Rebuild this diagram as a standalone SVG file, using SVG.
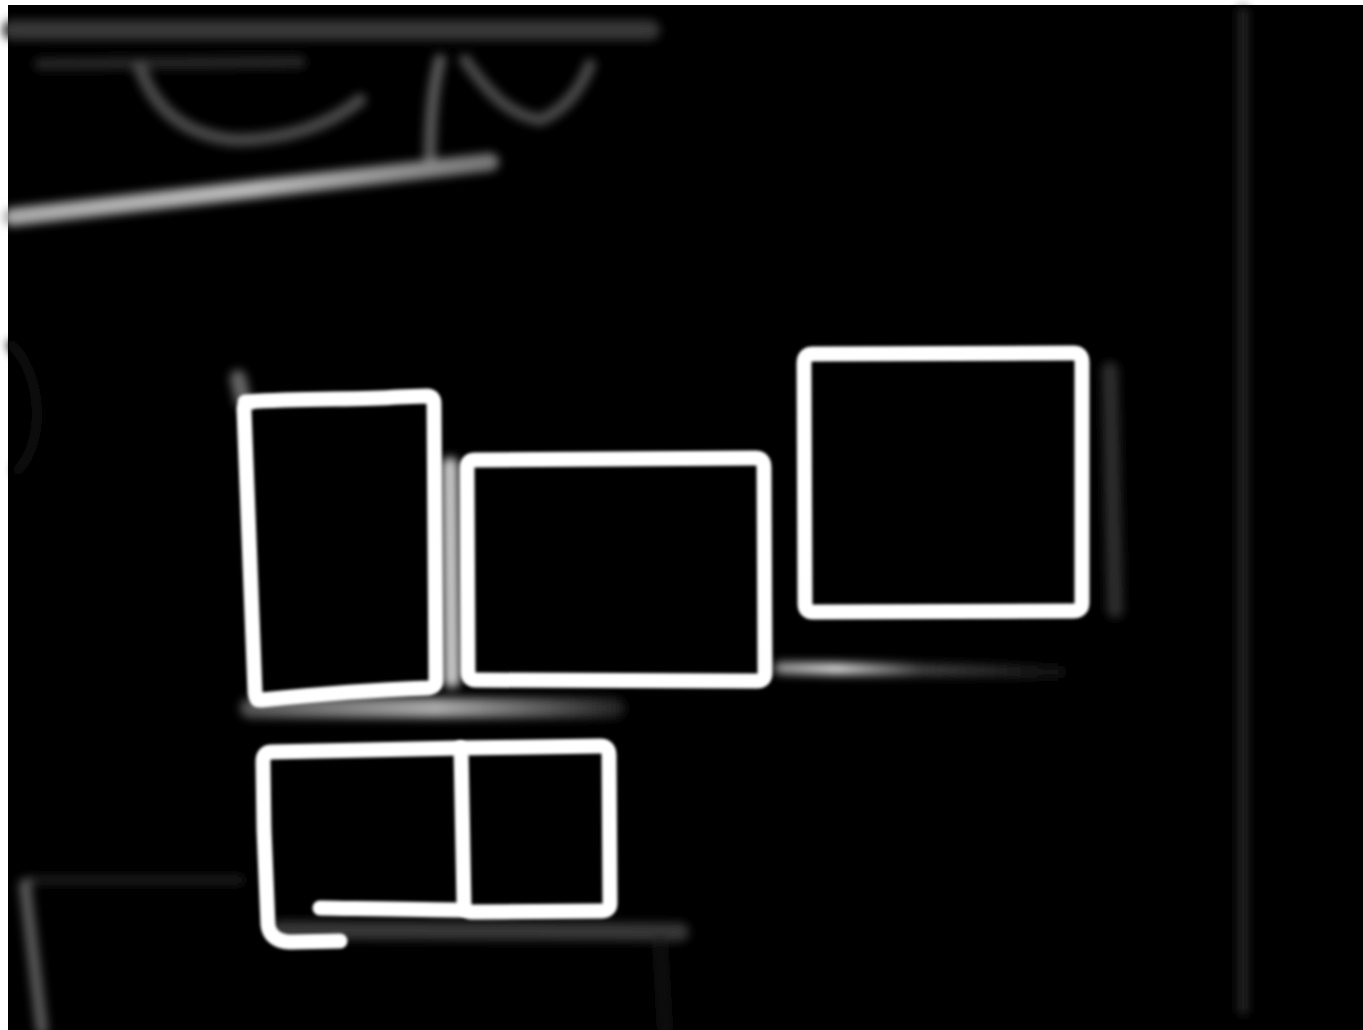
<svg xmlns="http://www.w3.org/2000/svg" width="1363" height="1030" viewBox="0 0 1363 1030">
  <defs>
    <filter id="soft" x="-10%" y="-10%" width="120%" height="120%"><feGaussianBlur stdDeviation="1.8"/></filter>
    <filter id="haze" filterUnits="userSpaceOnUse" x="0" y="0" width="1363" height="1030"><feGaussianBlur stdDeviation="5"/></filter>
    <linearGradient id="band1" gradientUnits="userSpaceOnUse" x1="250" y1="0" x2="620" y2="0">
      <stop offset="0" stop-color="#555"/>
      <stop offset="0.5" stop-color="#aaa"/>
      <stop offset="1" stop-color="#222"/>
    </linearGradient>
    <linearGradient id="band2" gradientUnits="userSpaceOnUse" x1="780" y1="0" x2="1060" y2="0">
      <stop offset="0" stop-color="#999"/>
      <stop offset="0.2" stop-color="#ddd"/>
      <stop offset="0.5" stop-color="#444"/>
      <stop offset="1" stop-color="#111"/>
    </linearGradient>
    <linearGradient id="diag" gradientUnits="userSpaceOnUse" x1="10" y1="0" x2="490" y2="0">
      <stop offset="0" stop-color="#aaa"/>
      <stop offset="0.5" stop-color="#bbb"/>
      <stop offset="1" stop-color="#777"/>
    </linearGradient>
  </defs>
  <style>
    .box { fill: none; stroke: #fff; stroke-width: 15; stroke-linejoin: round; stroke-linecap: round; }
    .faint { fill: none; stroke-linecap: round; stroke-linejoin: round; }
  </style>
  <rect x="0" y="0" width="1363" height="1030" fill="#fff"/>
  <rect x="8" y="5" width="1355" height="1025" fill="#000"/>

  <g id="background-strokes" filter="url(#haze)">
    <path class="faint" d="M12 30 L650 30" stroke="#383838" stroke-width="20"/>
    <path class="faint" d="M40 64 L300 62" stroke="#262626" stroke-width="12"/>
    <path class="faint" d="M140 68 C155 110 185 135 235 140 C285 140 330 125 360 100" stroke="#4a4a4a" stroke-width="13"/>
    <path class="faint" d="M440 60 C432 90 430 130 430 160" stroke="#5a5a5a" stroke-width="12"/>
    <path class="faint" d="M465 60 C490 95 510 115 540 120 C565 110 580 90 590 65" stroke="#4a4a4a" stroke-width="12"/>
    <path class="faint" d="M12 217 C150 202 320 182 490 162" stroke="url(#diag)" stroke-width="18"/>
    <path class="faint" d="M1243 12 L1243 1010" stroke="#262626" stroke-width="10"/>
    <path class="faint" d="M12 345 C42 375 46 440 18 470" stroke="#101010" stroke-width="10"/>
    <path class="faint" d="M30 880 L240 880" stroke="#202020" stroke-width="8"/>
    <path class="faint" d="M25 885 C30 930 36 980 42 1030" stroke="#5a5a5a" stroke-width="12"/>
    <path class="faint" d="M450 465 L452 680" stroke="#ccc" stroke-width="16"/>
    <path class="faint" d="M250 708 L615 708" stroke="url(#band1)" stroke-width="20"/>
    <path class="faint" d="M780 668 L1060 672" stroke="url(#band2)" stroke-width="12"/>
    <path class="faint" d="M1110 370 L1115 610" stroke="#2e2e2e" stroke-width="16"/>
    <path class="faint" d="M238 378 L243 400" stroke="#666" stroke-width="16"/>
    <path class="faint" d="M280 930 L680 932" stroke="#383838" stroke-width="18"/>
    <path class="faint" d="M660 940 L665 1030" stroke="#181818" stroke-width="10"/>
  </g>

  <g id="box-left-tall" filter="url(#soft)">
    <path class="box" d="M245 402 C300 398 360 400 398 397 L427 396 Q434 396 434 404 L436 680 Q436 687 428 688 C370 690 310 695 262 700 L259 700 Q256 700 255 692 L244 410 Q244 402 252 402 Z"/>
  </g>
  <g id="box-middle" filter="url(#soft)">
    <path class="box" d="M475 460 L755 458 Q764 458 764 467 L765 673 Q765 681 757 681 L476 680 Q468 680 468 672 L467 468 Q467 460 475 460 Z"/>
  </g>
  <g id="box-right" filter="url(#soft)">
    <path class="box" d="M813 354 L1073 353 Q1082 353 1082 362 L1082 603 Q1082 611 1073 611 L813 612 Q805 612 805 604 L804 363 Q804 354 813 354 Z"/>
  </g>
  <g id="box-bottom-left" filter="url(#soft)">
    <path class="box" d="M460 748 L272 752 Q263 752 263 761 L264 830 L268 925 Q270 941 290 942 L340 941"/>
    <path class="box" d="M320 908 C380 909 430 910 462 910"/>
  </g>
  <g id="box-bottom-right" filter="url(#soft)">
    <path class="box" d="M461 748 L600 746 Q609 746 609 755 L610 903 Q610 911 601 911 L472 912 Q464 912 464 904 Z"/>
  </g>
  <g id="connectors"></g>
</svg>
